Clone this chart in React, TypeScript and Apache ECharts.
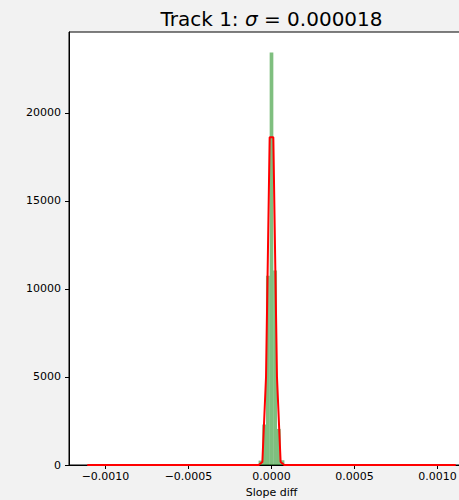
import React, { useEffect, useRef } from "react";
import * as echarts from "echarts";

const titleText = "Track 1: ";
const sigmaText = "0.000018";
const xLabel = "Slope diff";

const binWidth = 0.0000222;
const binCenters = [-0.0000888, -0.0000666, -0.0000444, -0.0000222, 0, 0.0000222, 0.0000444, 0.0000666, 0.0000888];
const binCounts = [20, 250, 2300, 10750, 23430, 11050, 2050, 270, 20];

const fitX = [-0.00111, -0.000099, -0.000077, -0.000055, -0.000033, -0.000011, 0.000011, 0.000033, 0.000055, 0.000077, 0.000099, 0.00111];
const fitY = [0, 0, 5, 170, 5000, 18620, 18620, 5000, 170, 5, 0, 0];

const xTicks = [-0.001, -0.0005, 0, 0.0005, 0.001];
const yTicks = [0, 5000, 10000, 15000, 20000];

const FONT = "DejaVu Sans";

export default function App() {
  const ref = useRef<HTMLDivElement>(null);
  useEffect(() => {
    if (!ref.current) return;
    const chart = echarts.init(ref.current, null, { renderer: "svg" });
    const fmtX = (v: number) => {
      if (Math.abs(v) < 1e-12) return "0.0000";
      return (v < 0 ? "\u2212" : "") + Math.abs(v).toFixed(4);
    };
    chart.setOption({
      animation: false,
      backgroundColor: "#f2f2f2",
      grid: {
        left: 69,
        top: 32,
        width: 405,
        height: 433,
        containLabel: false,
        outerBoundsMode: "none",
        show: true,
        backgroundColor: "#ffffff",
        borderColor: "#000000",
        borderWidth: 1,
      },
      graphic: [
        {
          type: "text",
          x: 271.5,
          y: 19,
          style: {
            text: titleText + "{i|σ} = " + sigmaText,
            rich: {
              i: { fontStyle: "italic", fontFamily: FONT, fontSize: 20, fill: "#000" },
            },
            fontFamily: FONT,
            fontSize: 20,
            fill: "#000",
            align: "center",
            verticalAlign: "middle",
          },
        },
      ],
      xAxis: {
        type: "value",
        min: -0.00122,
        max: 0.00122,
        name: xLabel,
        nameLocation: "middle",
        nameGap: 21,
        nameTextStyle: { fontFamily: FONT, fontSize: 11, color: "#000", verticalAlign: "top" },
        splitLine: { show: false },
        axisLine: { show: true, onZero: false, lineStyle: { color: "#000", width: 1 } },
        axisTick: { show: true, length: 4, lineStyle: { color: "#000" }, customValues: xTicks },
        axisLabel: {
          customValues: xTicks,
          formatter: fmtX,
          fontFamily: FONT,
          fontSize: 11,
          color: "#000",
          margin: 6,
        },
      },
      yAxis: {
        type: "value",
        min: 0,
        max: 24600,
        splitLine: { show: false },
        axisLine: { show: true, onZero: false, lineStyle: { color: "#000", width: 1 } },
        axisTick: { show: true, length: 4, lineStyle: { color: "#000" }, customValues: yTicks },
        axisLabel: {
          customValues: yTicks,
          formatter: (v: number) => String(v),
          fontFamily: FONT,
          fontSize: 11,
          color: "#000",
          margin: 8,
        },
      },
      series: [
        {
          type: "custom",
          data: binCenters.map((c, i) => [c, binCounts[i]]),
          renderItem: (params: any, api: any) => {
            const c = api.value(0);
            const v = api.value(1);
            const p0 = api.coord([c - binWidth / 2, v]);
            const p1 = api.coord([c + binWidth / 2, 0]);
            return {
              type: "rect",
              shape: { x: p0[0], y: p0[1], width: p1[0] - p0[0], height: p1[1] - p0[1] },
              style: { fill: "rgba(0,128,0,0.5)" },
            };
          },
          z: 2,
        },
        {
          type: "line",
          data: fitX.map((x, i) => [x, fitY[i]]),
          showSymbol: false,
          symbol: "none",
          lineStyle: { color: "#ff0000", width: 2 },
          z: 3,
        },
      ],
    });
    return () => chart.dispose();
  }, []);
  return (
    <div
      ref={ref}
      style={{ position: "fixed", left: 0, top: 0, width: 500, height: 500 }}
    />
  );
}
